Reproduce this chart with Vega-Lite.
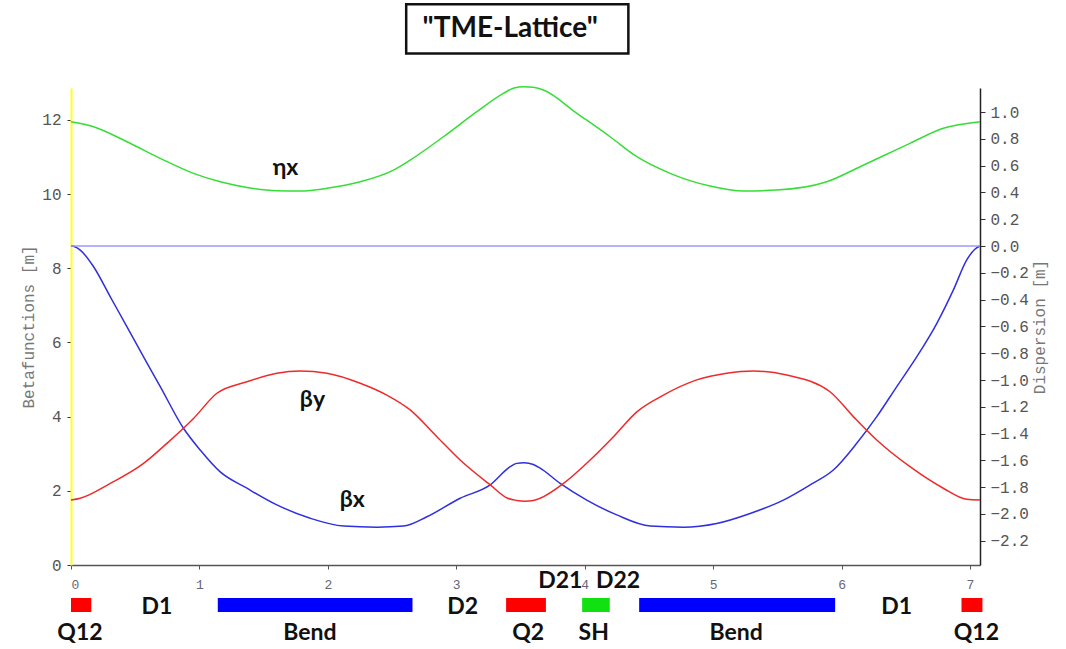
{
  "$schema": "https://vega.github.io/schema/vega-lite/v6.json",
  "width": 909,
  "height": 477,
  "autosize": {"type": "none"},
  "padding": {"left": 71, "top": 88, "right": 86, "bottom": 84},
  "background": "white",
  "config": {"view": {"stroke": null}, "axis": {"grid": false}},
  "datasets": {
    "beta": [
      {"s": 0, "curve": "βx", "v": 8.61}, {"s": 0.03, "curve": "βx", "v": 8.58}, {"s": 0.072, "curve": "βx", "v": 8.49}, {"s": 0.176, "curve": "βx", "v": 8.04},
      {"s": 0.306, "curve": "βx", "v": 7.23}, {"s": 0.436, "curve": "βx", "v": 6.42}, {"s": 0.565, "curve": "βx", "v": 5.61}, {"s": 0.695, "curve": "βx", "v": 4.81},
      {"s": 0.877, "curve": "βx", "v": 3.68}, {"s": 1.006, "curve": "βx", "v": 3.1}, {"s": 1.162, "curve": "βx", "v": 2.51}, {"s": 1.37, "curve": "βx", "v": 2.07},
      {"s": 1.603, "curve": "βx", "v": 1.62}, {"s": 1.863, "curve": "βx", "v": 1.26}, {"s": 2.122, "curve": "βx", "v": 1.05}, {"s": 2.382, "curve": "βx", "v": 1.02},
      {"s": 2.589, "curve": "βx", "v": 1.05}, {"s": 2.771, "curve": "βx", "v": 1.3}, {"s": 3.03, "curve": "βx", "v": 1.8}, {"s": 3.264, "curve": "βx", "v": 2.16},
      {"s": 3.42, "curve": "βx", "v": 2.65}, {"s": 3.47, "curve": "βx", "v": 2.74}, {"s": 3.53, "curve": "βx", "v": 2.76}, {"s": 3.6, "curve": "βx", "v": 2.71},
      {"s": 3.65, "curve": "βx", "v": 2.62}, {"s": 3.809, "curve": "βx", "v": 2.2}, {"s": 4.016, "curve": "βx", "v": 1.75}, {"s": 4.25, "curve": "βx", "v": 1.35},
      {"s": 4.51, "curve": "βx", "v": 1.05}, {"s": 4.768, "curve": "βx", "v": 1.02}, {"s": 5.028, "curve": "βx", "v": 1.12}, {"s": 5.288, "curve": "βx", "v": 1.39},
      {"s": 5.547, "curve": "βx", "v": 1.75}, {"s": 5.755, "curve": "βx", "v": 2.16}, {"s": 5.936, "curve": "βx", "v": 2.56}, {"s": 6.118, "curve": "βx", "v": 3.28},
      {"s": 6.274, "curve": "βx", "v": 4.0}, {"s": 6.43, "curve": "βx", "v": 4.81}, {"s": 6.585, "curve": "βx", "v": 5.61}, {"s": 6.741, "curve": "βx", "v": 6.51},
      {"s": 6.87, "curve": "βx", "v": 7.41}, {"s": 6.974, "curve": "βx", "v": 8.22}, {"s": 7.04, "curve": "βx", "v": 8.52}, {"s": 7.078, "curve": "βx", "v": 8.6},
      {"s": 0, "curve": "βy", "v": 1.75}, {"s": 0.072, "curve": "βy", "v": 1.8}, {"s": 0.306, "curve": "βy", "v": 2.2}, {"s": 0.565, "curve": "βy", "v": 2.74},
      {"s": 0.747, "curve": "βy", "v": 3.28}, {"s": 0.954, "curve": "βy", "v": 3.95}, {"s": 1.136, "curve": "βy", "v": 4.63}, {"s": 1.37, "curve": "βy", "v": 4.94},
      {"s": 1.603, "curve": "βy", "v": 5.17}, {"s": 1.785, "curve": "βy", "v": 5.23}, {"s": 1.993, "curve": "βy", "v": 5.17}, {"s": 2.252, "curve": "βy", "v": 4.9},
      {"s": 2.459, "curve": "βy", "v": 4.58}, {"s": 2.641, "curve": "βy", "v": 4.18}, {"s": 2.849, "curve": "βy", "v": 3.46}, {"s": 3.03, "curve": "βy", "v": 2.83},
      {"s": 3.264, "curve": "βy", "v": 2.16}, {"s": 3.4, "curve": "βy", "v": 1.8}, {"s": 3.471, "curve": "βy", "v": 1.74}, {"s": 3.535, "curve": "βy", "v": 1.72},
      {"s": 3.6, "curve": "βy", "v": 1.74}, {"s": 3.653, "curve": "βy", "v": 1.8}, {"s": 3.835, "curve": "βy", "v": 2.2}, {"s": 4.042, "curve": "βy", "v": 2.83},
      {"s": 4.224, "curve": "βy", "v": 3.46}, {"s": 4.406, "curve": "βy", "v": 4.13}, {"s": 4.613, "curve": "βy", "v": 4.58}, {"s": 4.873, "curve": "βy", "v": 4.99},
      {"s": 5.106, "curve": "βy", "v": 5.17}, {"s": 5.313, "curve": "βy", "v": 5.23}, {"s": 5.573, "curve": "βy", "v": 5.12}, {"s": 5.91, "curve": "βy", "v": 4.67},
      {"s": 6.092, "curve": "βy", "v": 4.0}, {"s": 6.274, "curve": "βy", "v": 3.37}, {"s": 6.533, "curve": "βy", "v": 2.65}, {"s": 6.792, "curve": "βy", "v": 2.07},
      {"s": 6.974, "curve": "βy", "v": 1.77}, {"s": 7.078, "curve": "βy", "v": 1.75}
    ],
    "disp": [
      {"s": 0, "curve": "ηx", "d": 0.928}, {"s": 0.176, "curve": "ηx", "d": 0.891}, {"s": 0.436, "curve": "ηx", "d": 0.779}, {"s": 0.695, "curve": "ηx", "d": 0.655},
      {"s": 0.954, "curve": "ηx", "d": 0.543}, {"s": 1.162, "curve": "ηx", "d": 0.48}, {"s": 1.37, "curve": "ηx", "d": 0.438}, {"s": 1.603, "curve": "ηx", "d": 0.413},
      {"s": 1.785, "curve": "ηx", "d": 0.411}, {"s": 1.993, "curve": "ηx", "d": 0.431}, {"s": 2.252, "curve": "ηx", "d": 0.48}, {"s": 2.511, "curve": "ηx", "d": 0.567},
      {"s": 2.641, "curve": "ηx", "d": 0.642}, {"s": 2.9, "curve": "ηx", "d": 0.816}, {"s": 3.16, "curve": "ηx", "d": 1.003}, {"s": 3.367, "curve": "ηx", "d": 1.14},
      {"s": 3.45, "curve": "ηx", "d": 1.18}, {"s": 3.523, "curve": "ηx", "d": 1.19}, {"s": 3.6, "curve": "ηx", "d": 1.185}, {"s": 3.679, "curve": "ηx", "d": 1.165},
      {"s": 3.939, "curve": "ηx", "d": 0.991}, {"s": 4.198, "curve": "ηx", "d": 0.816}, {"s": 4.406, "curve": "ηx", "d": 0.667}, {"s": 4.665, "curve": "ηx", "d": 0.543},
      {"s": 4.976, "curve": "ηx", "d": 0.448}, {"s": 5.236, "curve": "ηx", "d": 0.411}, {"s": 5.495, "curve": "ηx", "d": 0.418}, {"s": 5.885, "curve": "ηx", "d": 0.48},
      {"s": 6.144, "curve": "ηx", "d": 0.592}, {"s": 6.533, "curve": "ηx", "d": 0.767}, {"s": 6.792, "curve": "ηx", "d": 0.879}, {"s": 7.078, "curve": "ηx", "d": 0.928},
      {"s": 0, "curve": "ηy", "d": 0}, {"s": 7.078, "curve": "ηy", "d": 0}
    ],
    "elements": [
      {"name": "Q12", "type": "Quadrupole", "s0": 0, "s1": 0.158},
      {"name": "Bend", "type": "Bend", "s0": 1.143, "s1": 2.659},
      {"name": "Q2", "type": "Quadrupole", "s0": 3.388, "s1": 3.698},
      {"name": "SH", "type": "Sextupole", "s0": 3.98, "s1": 4.195},
      {"name": "Bend", "type": "Bend", "s0": 4.424, "s1": 5.95},
      {"name": "Q12", "type": "Quadrupole", "s0": 6.934, "s1": 7.097}
    ],
    "lattice_labels": [
      {"label": "Q12", "kind": "magnet", "s": 0.07},
      {"label": "Bend", "kind": "magnet", "s": 1.86},
      {"label": "Q2", "kind": "magnet", "s": 3.56},
      {"label": "SH", "kind": "magnet", "s": 4.07},
      {"label": "Bend", "kind": "magnet", "s": 5.18},
      {"label": "Q12", "kind": "magnet", "s": 7.05},
      {"label": "D1", "kind": "drift", "s": 0.67},
      {"label": "D2", "kind": "drift", "s": 3.05},
      {"label": "D1", "kind": "drift", "s": 6.43},
      {"label": "D21", "kind": "short drift", "s": 3.81},
      {"label": "D22", "kind": "short drift", "s": 4.26}
    ],
    "curve_labels": [
      {"label": "ηx", "s": 1.67, "v": 10.7},
      {"label": "βy", "s": 1.88, "v": 4.45},
      {"label": "βx", "s": 2.19, "v": 1.75}
    ]
  },
  "layer": [
    {
      "data": {"name": "beta"},
      "mark": {"type": "line", "strokeWidth": 1.5, "interpolate": "monotone"},
      "encoding": {
        "x": {
          "field": "s", "type": "quantitative",
          "scale": {"domain": [0, 7.078], "nice": false, "zero": false},
          "axis": {"orient": "bottom", "title": null, "values": [0, 1, 2, 3, 4, 5, 6, 7], "labelFont": "Liberation Mono", "labelFontSize": 13, "labelColor": "#667", "domainColor": "#555", "domainWidth": 1.5, "tickColor": "#555", "tickSize": 4, "labelPadding": 9}
        },
        "y": {
          "field": "v", "type": "quantitative",
          "scale": {"domain": [0, 12.86], "nice": false, "zero": false},
          "axis": {"orient": "left", "title": "Betafunctions [m]", "values": [0, 2, 4, 6, 8, 10, 12], "labelFont": "Liberation Mono", "labelFontSize": 16, "labelColor": "#555", "domainColor": "#ffff22", "domainWidth": 2, "tickColor": "#333", "tickSize": 4, "labelPadding": 6, "titleFont": "Liberation Mono", "titleFontSize": 16, "titleFontWeight": "normal", "titleColor": "#777", "titlePadding": 5}
        },
        "color": {"field": "curve", "type": "nominal", "scale": {"domain": ["βx", "βy"], "range": ["#2f2fe0", "#ee2a2a"]}, "legend": null},
        "order": {"field": "s", "type": "quantitative"}
      }
    },
    {
      "data": {"name": "disp"},
      "mark": {"type": "line", "strokeWidth": 1.5, "interpolate": "monotone"},
      "encoding": {
        "x": {"field": "s", "type": "quantitative", "scale": {"domain": [0, 7.078], "nice": false, "zero": false}, "axis": null},
        "y": {
          "field": "d", "type": "quantitative",
          "scale": {"domain": [-2.381, 1.18], "nice": false, "zero": false},
          "axis": {"orient": "right", "title": "Dispersion [m]", "values": [-2.2, -2.0, -1.8, -1.6, -1.4, -1.2, -1.0, -0.8, -0.6, -0.4, -0.2, 0.0, 0.2, 0.4, 0.6, 0.8, 1.0], "format": ".1f", "labelFont": "Liberation Mono", "labelFontSize": 16, "labelColor": "#555", "domainColor": "#222", "domainWidth": 1.5, "tickColor": "#333", "tickSize": 5, "labelPadding": 5, "titleFont": "Liberation Mono", "titleFontSize": 16, "titleFontWeight": "normal", "titleColor": "#777", "titlePadding": 3, "titleAngle": 270, "titleBaseline": "top"}
        },
        "color": {"field": "curve", "type": "nominal", "scale": {"domain": ["ηx", "ηy"], "range": ["#36dd36", "#9a9aff"]}, "legend": null},
        "order": {"field": "s", "type": "quantitative"}
      }
    },
    {
      "data": {"name": "curve_labels"},
      "mark": {"type": "text", "font": "Lato", "fontSize": 23, "fontWeight": "bold", "color": "#111", "align": "center", "baseline": "middle"},
      "encoding": {
        "x": {"field": "s", "type": "quantitative", "scale": {"domain": [0, 7.078], "nice": false, "zero": false}, "axis": null},
        "y": {"field": "v", "type": "quantitative", "scale": {"domain": [0, 12.86], "nice": false, "zero": false}, "axis": null},
        "text": {"field": "label"}
      }
    },
    {
      "data": {"name": "elements"},
      "mark": {"type": "rect"},
      "encoding": {
        "x": {"field": "s0", "type": "quantitative", "scale": {"domain": [0, 7.078], "nice": false, "zero": false}, "axis": null},
        "x2": {"field": "s1"},
        "y": {"datum": -0.889, "type": "quantitative", "scale": {"domain": [0, 12.86], "nice": false, "zero": false}, "axis": null},
        "y2": {"datum": -1.267},
        "fill": {"field": "type", "type": "nominal", "scale": {"domain": ["Quadrupole", "Bend", "Sextupole"], "range": ["#ff0000", "#0000ff", "#11e011"]}, "legend": null}
      }
    },
    {
      "data": {"name": "lattice_labels"},
      "transform": [{"filter": "datum.kind === 'magnet'"}],
      "mark": {"type": "text", "font": "Lato", "fontSize": 23, "fontWeight": "bold", "color": "#111", "align": "center", "baseline": "middle"},
      "encoding": {
        "x": {"field": "s", "type": "quantitative", "scale": {"domain": [0, 7.078], "nice": false, "zero": false}, "axis": null},
        "y": {"datum": -1.83, "type": "quantitative", "scale": {"domain": [0, 12.86], "nice": false, "zero": false}, "axis": null},
        "text": {"field": "label"}
      }
    },
    {
      "data": {"name": "lattice_labels"},
      "transform": [{"filter": "datum.kind === 'drift'"}],
      "mark": {"type": "text", "font": "Lato", "fontSize": 23, "fontWeight": "bold", "color": "#111", "align": "center", "baseline": "middle"},
      "encoding": {
        "x": {"field": "s", "type": "quantitative", "scale": {"domain": [0, 7.078], "nice": false, "zero": false}, "axis": null},
        "y": {"datum": -1.12, "type": "quantitative", "scale": {"domain": [0, 12.86], "nice": false, "zero": false}, "axis": null},
        "text": {"field": "label"}
      }
    },
    {
      "data": {"name": "lattice_labels"},
      "transform": [{"filter": "datum.kind === 'short drift'"}],
      "mark": {"type": "text", "font": "Lato", "fontSize": 23, "fontWeight": "bold", "color": "#111", "align": "center", "baseline": "middle"},
      "encoding": {
        "x": {"field": "s", "type": "quantitative", "scale": {"domain": [0, 7.078], "nice": false, "zero": false}, "axis": null},
        "y": {"datum": -0.43, "type": "quantitative", "scale": {"domain": [0, 12.86], "nice": false, "zero": false}, "axis": null},
        "text": {"field": "label"}
      }
    },
    {
      "data": {"values": [{}]},
      "mark": {"type": "rect", "fill": "white", "stroke": "#111", "strokeWidth": 2.5},
      "encoding": {
        "x": {"datum": 2.61, "type": "quantitative", "scale": {"domain": [0, 7.078], "nice": false, "zero": false}, "axis": null},
        "x2": {"datum": 4.34},
        "y": {"datum": 15.12, "type": "quantitative", "scale": {"domain": [0, 12.86], "nice": false, "zero": false}, "axis": null},
        "y2": {"datum": 13.79}
      }
    },
    {
      "data": {"values": [{"title": "\"TME-Lattice\""}]},
      "mark": {"type": "text", "font": "Lato", "fontSize": 28, "fontWeight": "bold", "color": "#111", "align": "center", "baseline": "middle"},
      "encoding": {
        "x": {"datum": 3.42, "type": "quantitative", "scale": {"domain": [0, 7.078], "nice": false, "zero": false}, "axis": null},
        "y": {"datum": 14.45, "type": "quantitative", "scale": {"domain": [0, 12.86], "nice": false, "zero": false}, "axis": null},
        "text": {"field": "title"}
      }
    }
  ],
  "resolve": {"scale": {"x": "independent", "y": "independent", "color": "independent", "fill": "independent"}}
}
